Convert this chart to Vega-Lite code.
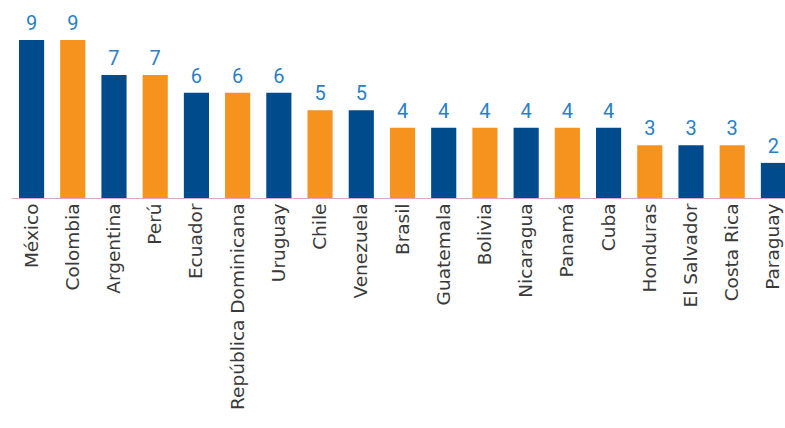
{
  "$schema": "https://vega.github.io/schema/vega-lite/v6.json",
  "width": 783,
  "height": 158,
  "autosize": "none",
  "padding": {"left": 11, "top": 40, "right": 0, "bottom": 230},
  "background": "white",
  "config": {"view": {"stroke": null}},
  "data": {"values": [
    {"pais": "México", "valor": 9, "grupo": "a"},
    {"pais": "Colombia", "valor": 9, "grupo": "b"},
    {"pais": "Argentina", "valor": 7, "grupo": "a"},
    {"pais": "Perú", "valor": 7, "grupo": "b"},
    {"pais": "Ecuador", "valor": 6, "grupo": "a"},
    {"pais": "República Dominicana", "valor": 6, "grupo": "b"},
    {"pais": "Uruguay", "valor": 6, "grupo": "a"},
    {"pais": "Chile", "valor": 5, "grupo": "b"},
    {"pais": "Venezuela", "valor": 5, "grupo": "a"},
    {"pais": "Brasil", "valor": 4, "grupo": "b"},
    {"pais": "Guatemala", "valor": 4, "grupo": "a"},
    {"pais": "Bolivia", "valor": 4, "grupo": "b"},
    {"pais": "Nicaragua", "valor": 4, "grupo": "a"},
    {"pais": "Panamá", "valor": 4, "grupo": "b"},
    {"pais": "Cuba", "valor": 4, "grupo": "a"},
    {"pais": "Honduras", "valor": 3, "grupo": "b"},
    {"pais": "El Salvador", "valor": 3, "grupo": "a"},
    {"pais": "Costa Rica", "valor": 3, "grupo": "b"},
    {"pais": "Paraguay", "valor": 2, "grupo": "a"}
  ]},
  "encoding": {
    "x": {
      "field": "pais", "type": "nominal", "sort": null,
      "scale": {"paddingInner": 0.39, "paddingOuter": 0.194},
      "axis": {
        "title": null, "labelAngle": -90, "labelAlign": "right", "labelBaseline": "middle",
        "labelFont": "DejaVu Sans", "labelFontSize": 18.5, "labelFontWeight": "normal", "labelColor": "#3a3a3a",
        "labelPadding": 5, "ticks": false, "domainColor": "#d9a9c9", "domainWidth": 1.2,
        "labelLimit": 300
      }
    },
    "y": {
      "field": "valor", "type": "quantitative",
      "scale": {"domain": [0, 9], "nice": false, "zero": true},
      "axis": null
    }
  },
  "layer": [
    {
      "mark": {"type": "bar"},
      "encoding": {
        "color": {
          "field": "grupo", "type": "nominal",
          "scale": {"domain": ["a", "b"], "range": ["#004b8b", "#f6921e"]},
          "legend": null
        }
      }
    },
    {
      "mark": {"type": "text", "baseline": "bottom", "dy": -6, "font": "Roboto", "fontSize": 20, "color": "#2a80c6"},
      "encoding": {"text": {"field": "valor", "type": "quantitative"}}
    }
  ]
}
